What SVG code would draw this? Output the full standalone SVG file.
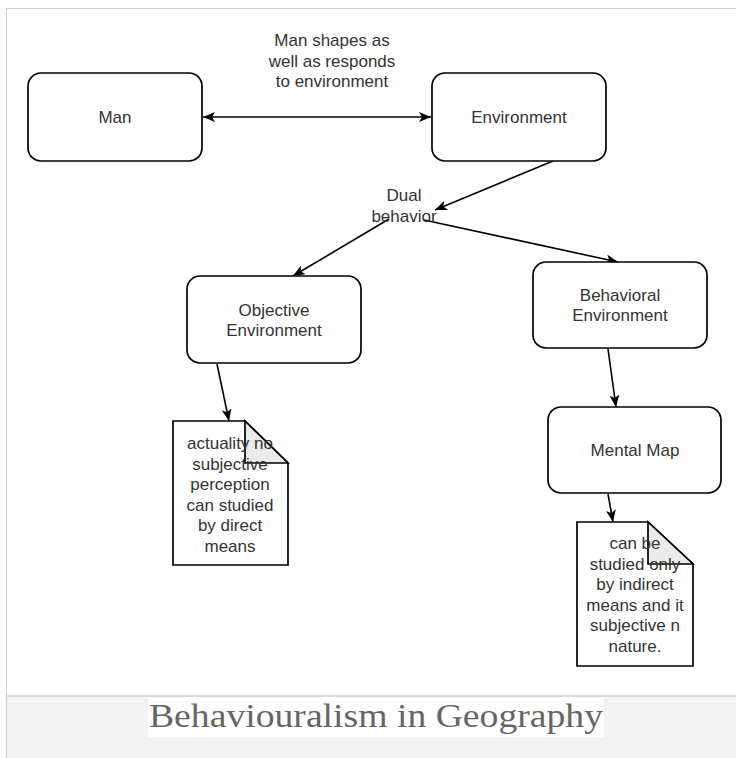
<svg xmlns="http://www.w3.org/2000/svg" width="736" height="758" viewBox="0 0 736 758">
<style>
.box{fill:#fff;stroke:#000;stroke-width:1.7}
.note{fill:#fff;stroke:#000;stroke-width:1.7;stroke-linejoin:miter}
.fold{fill:#ebebeb;stroke:#000;stroke-width:1.7}
.t{font-family:"Liberation Sans",Arial,sans-serif;font-size:17px;fill:#333;text-anchor:middle}
.e{fill:none;stroke:#000;stroke-width:1.6}
.cap{font-family:"Liberation Serif","Times New Roman",serif;font-size:33px;fill:#666}
</style>
<defs>
<marker id="arr" viewBox="0 0 12 10" refX="12" refY="5" markerWidth="12" markerHeight="10" orient="auto-start-reverse" markerUnits="userSpaceOnUse">
<path d="M0,0 L12,5 L0,10 L3,5 Z" fill="#000"/>
</marker>
</defs>
<rect x="0" y="0" width="736" height="758" fill="#fff"/>
<g id="frame">
<rect x="6.5" y="696" width="729.5" height="62" fill="#f3f3f3"/>
<line x1="6.5" y1="696" x2="736" y2="696" stroke="#cfcfcf" stroke-width="1.5"/>
<line x1="6" y1="8.5" x2="736" y2="8.5" stroke="#cfcfcf" stroke-width="1.2"/>
<line x1="6.5" y1="8" x2="6.5" y2="758" stroke="#cfcfcf" stroke-width="1.2"/>
</g>
<g id="connectors">
<path class="e" d="M203,117 L431,117" marker-start="url(#arr)" marker-end="url(#arr)"/>
<path class="e" d="M553,161 L435,210" marker-end="url(#arr)"/>
<path class="e" d="M389,219 L293,276" marker-end="url(#arr)"/>
<path class="e" d="M424,220 L618,262" marker-end="url(#arr)"/>
<path class="e" d="M217,364 L229,421" marker-end="url(#arr)"/>
<path class="e" d="M608,349 L616,407" marker-end="url(#arr)"/>
<path class="e" d="M608,494 L613,522" marker-end="url(#arr)"/>
</g>
<g id="label-top">
<text class="t" x="332" y="46">Man shapes as</text>
<text class="t" x="332" y="67">well as responds</text>
<text class="t" x="332" y="87">to environment</text>
</g>
<g id="label-dual">
<text class="t" x="404" y="201">Dual</text>
<text class="t" x="404" y="222">behavior</text>
</g>
<g id="man">
<rect class="box" x="28" y="73" width="174" height="88" rx="13"/>
<text class="t" x="115" y="123">Man</text>
</g>
<g id="environment">
<rect class="box" x="432" y="73" width="174" height="88" rx="13"/>
<text class="t" x="519" y="123">Environment</text>
</g>
<g id="objective">
<rect class="box" x="187" y="276" width="174" height="87" rx="13"/>
<text class="t" x="274" y="316">Objective</text>
<text class="t" x="274" y="336">Environment</text>
</g>
<g id="behavioral">
<rect class="box" x="533" y="262" width="174" height="86" rx="13"/>
<text class="t" x="620" y="301">Behavioral</text>
<text class="t" x="620" y="321">Environment</text>
</g>
<g id="mentalmap">
<rect class="box" x="548" y="407" width="173" height="86" rx="13"/>
<text class="t" x="635" y="456">Mental Map</text>
</g>
<g id="note1">
<path class="note" d="M173,421 L245,421 L288,463 L288,565 L173,565 Z"/>
<path class="fold" d="M245,421 L245,463 L288,463 Z"/>
<text class="t" x="230" y="449">actuality no</text>
<text class="t" x="230" y="469.5">subjective</text>
<text class="t" x="230" y="490">perception</text>
<text class="t" x="230" y="510.5">can studied</text>
<text class="t" x="230" y="531">by direct</text>
<text class="t" x="230" y="551.5">means</text>
</g>
<g id="note2">
<path class="note" d="M577,522 L648,522 L693,564 L693,666 L577,666 Z"/>
<path class="fold" d="M648,522 L648,564 L693,564 Z"/>
<text class="t" x="635" y="549">can be</text>
<text class="t" x="635" y="569.5">studied only</text>
<text class="t" x="635" y="590">by indirect</text>
<text class="t" x="635" y="610.5">means and it</text>
<text class="t" x="635" y="631">subjective n</text>
<text class="t" x="635" y="651.5">nature.</text>
</g>
<g id="caption">
<rect x="148" y="697" width="456" height="40" fill="#fff"/>
<text class="cap" x="149" y="727" textLength="454" lengthAdjust="spacingAndGlyphs">Behaviouralism in Geography</text>
</g>
</svg>
